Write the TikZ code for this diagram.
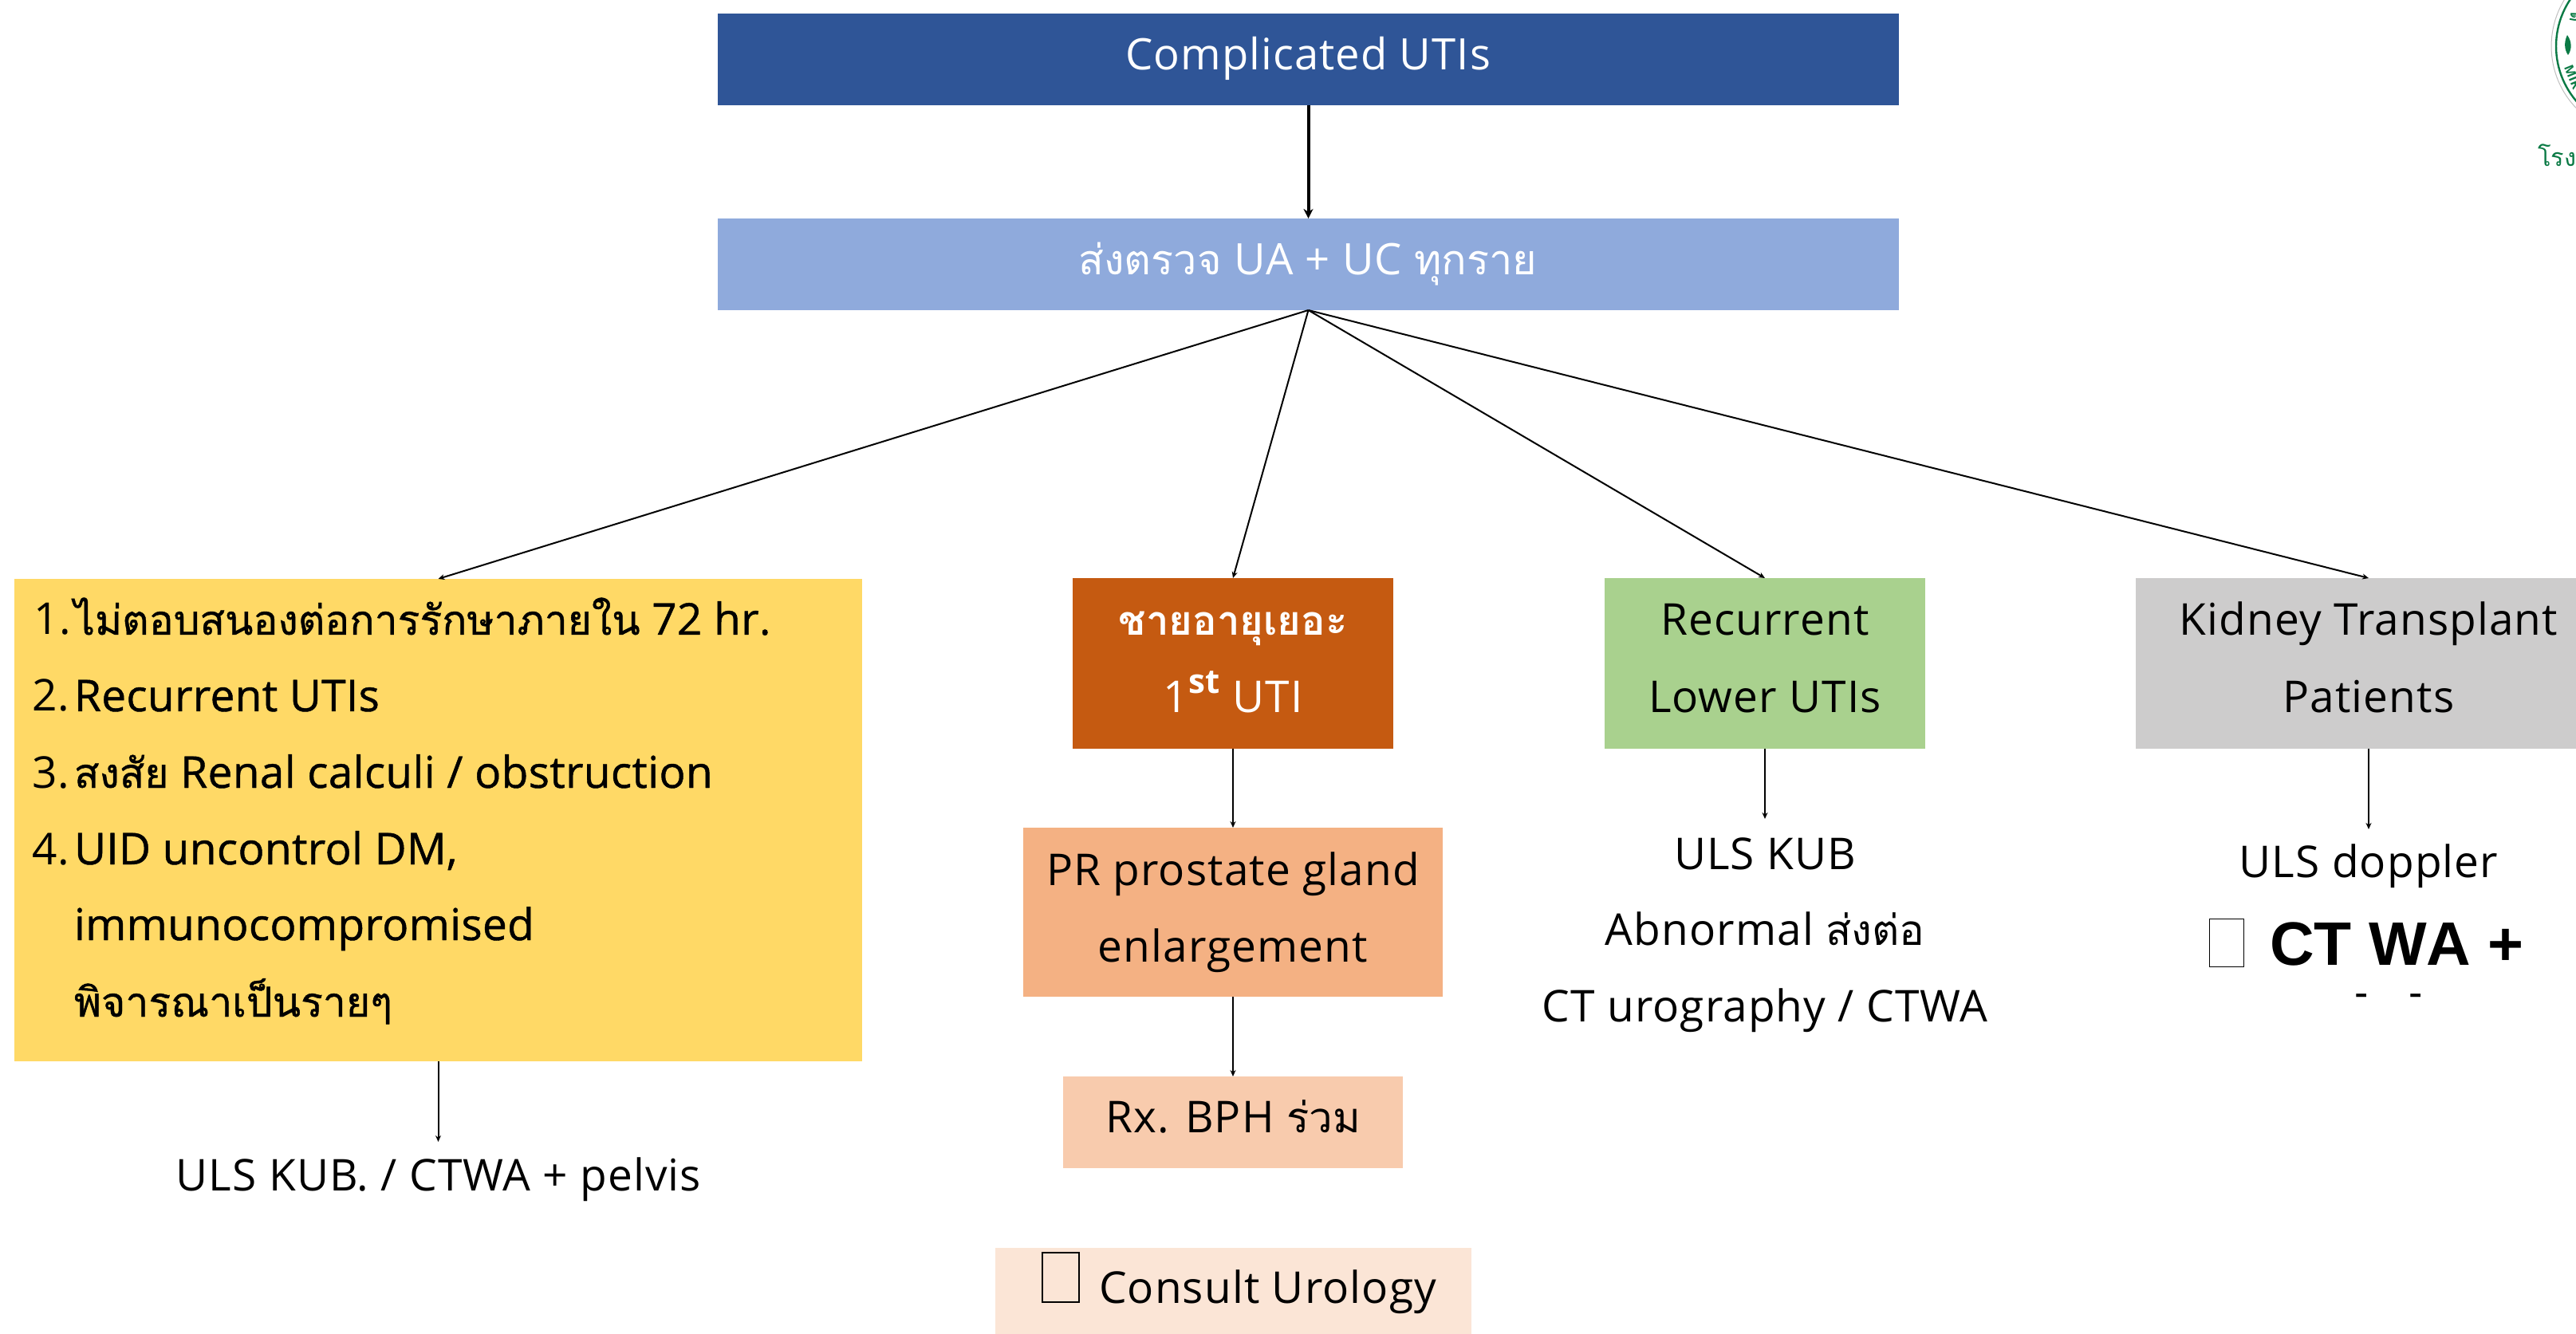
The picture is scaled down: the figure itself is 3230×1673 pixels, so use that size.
\documentclass[tikz,border=0pt]{standalone}
\usepackage{fontspec}
\usetikzlibrary{arrows.meta}
\setmainfont[LetterSpace=2]{Open Sans}
\newfontfamily\thaifont[Script=Thai,Scale=0.96]{Loma}
\newfontfamily\yelfont[FakeBold=0.8,LetterSpace=0.6]{Open Sans}
\newfontfamily\thaiyel[Script=Thai,FakeBold=0.8,Scale=0.94]{Loma}
\newfontfamily\arialfont[Kerning=Off]{Liberation Sans}
\newcommand{\thaitxt}[1]{{\thaifont #1}}
\newcommand{\thaiy}[1]{{\thaiyel #1}}
\definecolor{cTop}{HTML}{2F5597}
\definecolor{cUA}{HTML}{8FAADC}
\definecolor{cYel}{HTML}{FFD966}
\definecolor{cOrg}{HTML}{C55A11}
\definecolor{cGrn}{HTML}{A9D18E}
\definecolor{cGry}{HTML}{CDCCCC}
\definecolor{cPR}{HTML}{F4B183}
\definecolor{cRx}{HTML}{F8CBAD}
\definecolor{cCon}{HTML}{FBE5D6}
\definecolor{cLogo}{HTML}{0B7A45}
\tikzset{
  x=0.5pt,y=-0.5pt,
  boxnode/.style={inner sep=0pt,outer sep=0pt,draw=none},
  lab/.style={inner sep=0pt,outer sep=0pt,anchor=base,font=\fontsize{27.5}{30}\selectfont},
  labl/.style={lab,anchor=base west},
  labb/.style={lab,anchor=base west,font=\fontsize{27.5}{30}\yelfont},
  wlab/.style={lab,text=white},
  thin arrow/.style={line width=1pt,-{Stealth[length=4pt,width=3.5pt]}},
  thick arrow/.style={line width=2pt,-{Stealth[length=6pt,width=6pt]}},
}
\begin{document}
\begin{tikzpicture}
\useasboundingbox (0,0) rectangle (3230,1673);
\clip (0,0) rectangle (3230,1673);
% boxes
\node[boxnode,fill=cTop,minimum width=1481*0.5pt,minimum height=115*0.5pt] (top) at (1640.5,74.5) {};
\node[boxnode,fill=cUA,minimum width=1481*0.5pt,minimum height=115*0.5pt] (ua) at (1640.5,331.5) {};
\node[boxnode,fill=cYel,minimum width=1063*0.5pt,minimum height=605*0.5pt] (yel) at (549.5,1028.5) {};
\node[boxnode,fill=cOrg,minimum width=402*0.5pt,minimum height=214*0.5pt] (org) at (1546,832) {};
\node[boxnode,fill=cGrn,minimum width=402*0.5pt,minimum height=214*0.5pt] (grn) at (2213,832) {};
\node[boxnode,fill=cGry,minimum width=584*0.5pt,minimum height=214*0.5pt] (gry) at (2970,832) {};
\node[boxnode,fill=cPR,minimum width=526*0.5pt,minimum height=212*0.5pt] (pr) at (1546,1144) {};
\node[boxnode,fill=cRx,minimum width=426*0.5pt,minimum height=115*0.5pt] (rx) at (1546,1407.5) {};
\node[boxnode,fill=cCon,minimum width=597*0.5pt,minimum height=108*0.5pt] (con) at (1546.5,1619) {};
% free ends
\coordinate (yelEnd) at (549.5,1432);
\coordinate (grnEnd) at (2213,1027);
\coordinate (gryEnd) at (2970,1040);
% connectors
\draw[thick arrow] (top.south) -- (ua.north);
\draw[thin arrow] (ua.south) -- (yel.north);
\draw[thin arrow] (ua.south) -- (org.north);
\draw[thin arrow] (ua.south) -- (grn.north);
\draw[thin arrow] (ua.south) -- (gry.north);
\draw[thin arrow] (yel.south) -- (yelEnd);
\draw[thin arrow] (org.south) -- (pr.north);
\draw[thin arrow] (pr.south) -- (rx.north);
\draw[thin arrow] (grn.south) -- (grnEnd);
\draw[thin arrow] (gry.south) -- (gryEnd);
% top labels
\node[wlab,font=\fontsize{27.2}{32}\selectfont] (tTop) at (1640,88) {Complicated UTIs};
\node[wlab,font=\fontsize{27.2}{32}\selectfont] (tUA) at (1640,345) {\thaitxt{ส่งตรวจ} UA + UC \thaitxt{ทุกราย}};
% yellow list
\node[labl] (n1) at (42,796) {1.};
\node[labb] (y1) at (93,796) {\thaiy{ไม่ตอบสนองต่อการรักษาภายใน} 72 hr.};
\node[labl] (n2) at (40,892) {2.};
\node[labb] (y2) at (93,892) {Recurrent UTIs};
\node[labl] (n3) at (40,988) {3.};
\node[labb] (y3) at (93,988) {\thaiy{สงสัย} Renal calculi / obstruction};
\node[labl] (n4) at (40,1084) {4.};
\node[labb] (y4) at (93,1084) {UID uncontrol DM,};
\node[labb] (y5) at (93,1179) {immunocompromised};
\node[labb] (y6) at (93,1275) {\thaiy{พิจารณาเป็นรายๆ}};
\node[lab] (tYel) at (550,1493) {ULS KUB. / CTWA + pelvis};
% orange column
\node[wlab,font=\fontsize{26.5}{30}\selectfont\bfseries] (o1) at (1546,797) {\thaifont ชายอายุเยอะ};
\node[wlab] (o2) at (1546,893) {1\raisebox{0.42em}{\fontsize{21}{22}\selectfont\bfseries st} UTI};
\node[lab] (p1) at (1546,1110) {PR prostate gland};
\node[lab] (p2) at (1546,1206) {enlargement};
\node[lab] (r1) at (1546,1420) {Rx. BPH \thaitxt{ร่วม}};
\node[boxnode,draw=black,line width=0.8pt,minimum width=46*0.5pt,minimum height=62*0.5pt] (tofuA) at (1330,1602) {};
\node[labl] (c1) at (1378,1634) {Consult Urology};
% green column
\node[lab] (g1) at (2213,797) {Recurrent};
\node[lab] (g2) at (2213,893) {Lower UTIs};
\node[lab] (g3) at (2213,1090) {ULS KUB};
\node[lab] (g4) at (2213,1185) {Abnormal \thaitxt{ส่งต่อ}};
\node[lab] (g5) at (2213,1281) {CT urography / CTWA};
% grey column
\node[lab] (k1) at (2970,797) {Kidney Transplant};
\node[lab] (k2) at (2970,893) {Patients};
\node[lab] (k3) at (2970,1100) {ULS doppler};
\node[boxnode,draw=black,line width=0.9pt,minimum width=43*0.5pt,minimum height=60*0.5pt] (tofuB) at (2792,1182.5) {};
\node[labl,font=\arialfont\bfseries\fontsize{38.5}{44}\selectfont] (k4) at (2846,1210) {CT WA +};
\node[lab,font=\arialfont\fontsize{26}{30}\selectfont] (d1) at (2961,1262) {-};
\node[lab,font=\arialfont\fontsize{26}{30}\selectfont] (d2) at (3029,1262) {-};
% logo, cut by the page edge
\draw[gray!50,line width=0.5pt] (3311,58) circle[radius=112];
\draw[cLogo,line width=1.2pt] (3311,58) circle[radius=106];
\fill[cLogo] (3219,44) .. controls (3225,52) and (3225,62) .. (3220,69) .. controls (3215,62) and (3215,52) .. (3219,44) -- cycle;
\node[inner sep=0pt,text=cLogo,rotate=-68,font=\fontsize{8}{9}\selectfont\bfseries] (lg1) at (3226,97) {MIR};
\node[inner sep=0pt,text=cLogo,rotate=-100,font=\fontsize{10}{11}\thaifont\bfseries] (lg2) at (3228,22) {ด};
\node[inner sep=0pt,anchor=base west,text=cLogo,font=\fontsize{16}{18}\thaifont] (lg3) at (3182,209) {โรงพ};
\end{tikzpicture}
\end{document}
